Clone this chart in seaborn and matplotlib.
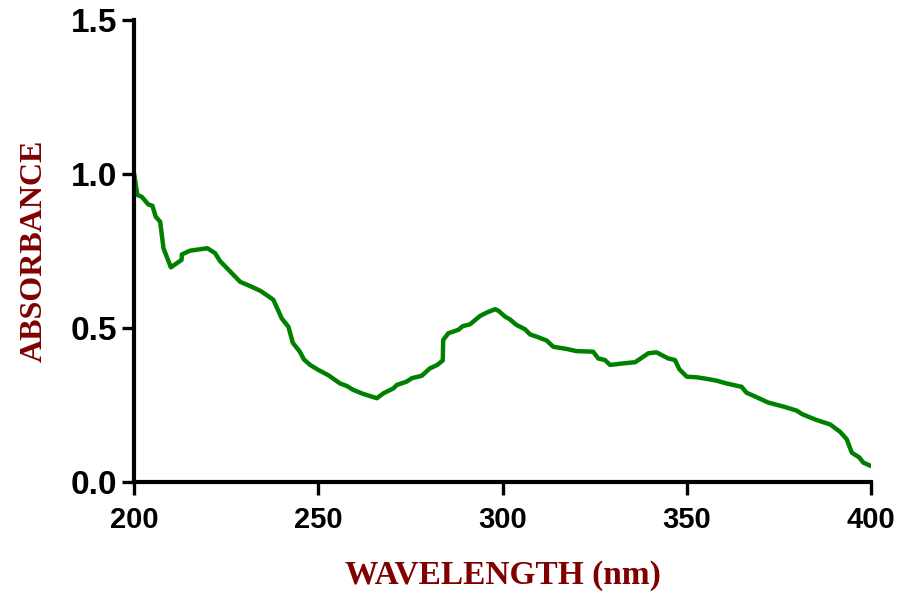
import matplotlib
matplotlib.use("Agg")
import matplotlib.pyplot as plt
import seaborn as sns
import pandas as pd

wavelength = [200, 200.9, 202.1, 203.9, 205.0, 205.9, 207.1, 208.0, 210.0, 212.9, 213.0, 215.2,
              219.9, 222.0, 223.3, 228.8, 231.9, 234.4, 237.8, 240.1, 241.9, 243.1, 245.0, 246.1,
              247.8, 250.0, 252.7, 255.9, 257.7, 259.5, 262.2, 265.9, 267.7, 270.4, 271.3, 274.0,
              275.4, 278.1, 280.3, 282.3, 283.8, 283.9, 285.3, 288.0, 289.2, 291.2, 293.9, 295.7,
              298.0, 298.9, 300.7, 302.0, 303.8, 306.1, 307.5, 309.7, 312.0, 313.8, 317.4, 320.1,
              324.6, 326.0, 327.8, 329.2, 331.9, 336.0, 339.6, 341.8, 345.0, 346.8, 348.0, 350.0,
              352.7, 355.9, 358.1, 360.8, 364.9, 366.2, 368.1, 372.1, 376.2, 379.8, 381.2, 383.4,
              385.3, 388.9, 391.6, 393.4, 394.8, 396.8, 397.9, 400.0]
absorbance = [1.003, 0.932, 0.926, 0.901, 0.897, 0.861, 0.845, 0.759, 0.697, 0.721, 0.739, 0.751,
              0.759, 0.743, 0.718, 0.650, 0.634, 0.620, 0.592, 0.531, 0.504, 0.452, 0.423, 0.398,
              0.380, 0.364, 0.347, 0.320, 0.312, 0.299, 0.286, 0.272, 0.288, 0.304, 0.315, 0.326,
              0.337, 0.345, 0.369, 0.380, 0.395, 0.461, 0.483, 0.494, 0.506, 0.512, 0.539, 0.550,
              0.561, 0.556, 0.537, 0.528, 0.510, 0.496, 0.479, 0.470, 0.459, 0.439, 0.432, 0.425,
              0.423, 0.401, 0.396, 0.380, 0.384, 0.389, 0.418, 0.421, 0.401, 0.396, 0.366, 0.342,
              0.340, 0.334, 0.329, 0.320, 0.309, 0.290, 0.280, 0.258, 0.245, 0.232, 0.221, 0.210,
              0.201, 0.187, 0.163, 0.139, 0.095, 0.080, 0.063, 0.052]
x_ticks = [200, 250, 300, 350, 400]
y_ticks = [0.0, 0.5, 1.0, 1.5]
y_tick_labels = ["0.0", "0.5", "1.0", "1.5"]

sns.set_style("ticks")
plt.rcParams['font.family'] = ['Liberation Sans', 'DejaVu Sans']

df = pd.DataFrame({"wavelength": wavelength, "absorbance": absorbance})

fig = plt.figure(figsize=(9.06, 5.98), dpi=100)
ax = fig.add_axes([134/906, (598-482)/598, (871-134)/906, (482-20)/598])
sns.lineplot(data=df, x="wavelength", y="absorbance", sort=False, estimator=None,
             color="#008000", linewidth=3.2, ax=ax)

ax.set_xlim(200, 400)
ax.set_ylim(0, 1.5)
ax.set_xticks(x_ticks)
ax.set_yticks(y_ticks)
ax.set_yticklabels(y_tick_labels)
for s in ["top", "right"]:
    ax.spines[s].set_visible(False)
for s in ["left", "bottom"]:
    ax.spines[s].set_linewidth(3.0)
    ax.spines[s].set_color("black")
ax.tick_params(axis="both", direction="out", length=9, width=2.4, color="black",
               labelcolor="black")
ax.tick_params(axis="y", pad=3)
ax.tick_params(axis="x", pad=8)

for lab in ax.get_yticklabels():
    lab.set_fontsize(24); lab.set_fontweight("bold"); lab.set_color("black")
for lab in ax.get_xticklabels():
    lab.set_fontsize(21); lab.set_fontweight("bold"); lab.set_color("black")

label_font = dict(family=['Liberation Serif', 'DejaVu Serif'], fontweight="bold",
                  color="#800000")
ax.set_xlabel("WAVELENGTH (nm)", labelpad=19, fontsize=24, **label_font)
ax.set_ylabel("ABSORBANCE", labelpad=16, fontsize=23, **label_font)

fig.savefig("out.png", dpi=100)
